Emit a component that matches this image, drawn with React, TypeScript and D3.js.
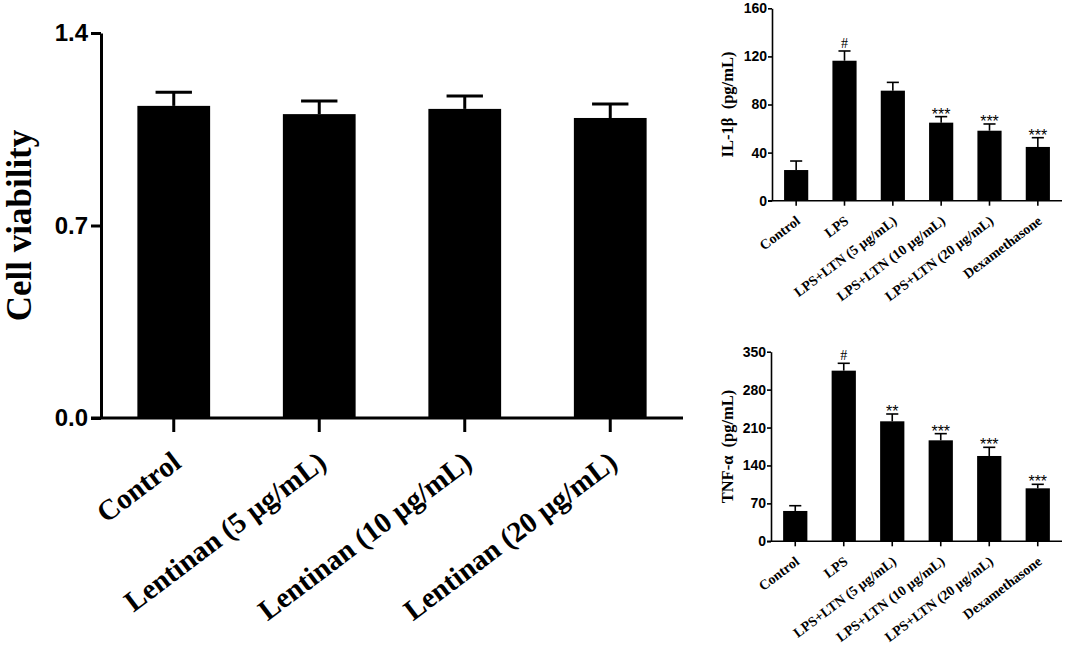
import React, { useEffect, useRef } from 'react';
import * as d3 from 'd3';

// cell viability (left panel)
const viabilityGroups = ['Control', 'Lentinan (5 µg/mL)', 'Lentinan (10 µg/mL)', 'Lentinan (20 µg/mL)'];
const viabilityMeans = [1.135, 1.105, 1.124, 1.091];
const viabilityErrors = [0.05, 0.048, 0.047, 0.051];
const viabilityTicks = [0, 0.7, 1.4];

// cytokines (right panels)
const cytokineGroups = ['Control', 'LPS', 'LPS+LTN (5 µg/mL)', 'LPS+LTN (10 µg/mL)', 'LPS+LTN (20 µg/mL)', 'Dexamethasone'];
const il1bMeans = [25.5, 116.4, 91.5, 64.9, 58.2, 44.7];
const il1bErrors = [7.5, 8.1, 6.9, 5.0, 5.6, 7.7];
const il1bMarks = ['', '#', '', '***', '***', '***'];
const il1bTicks = [0, 40, 80, 120, 160];
const tnfMeans = [56, 315, 221.5, 186.4, 157.5, 97.8];
const tnfErrors = [9.7, 13.6, 13.5, 12.3, 16, 7.4];
const tnfMarks = ['', '#', '**', '***', '***', '***'];
const tnfTicks = [0, 70, 140, 210, 280, 350];

const SANS = "'Liberation Sans', Arial, sans-serif";
const SERIF = "'Liberation Serif', 'Times New Roman', serif";

type Panel = {
  groups: string[];
  means: number[];
  errors: number[];
  marks?: string[];
  ticks: number[];
  fmt: (v: number) => string;
  left: number; right: number; top: number; bottom: number;
  title: string; titleX: number; titleSize: number;
  tickFont: number; tickLen: number; tickPad: number; xTickLen: number; stroke: number;
  labelSize: number; labelAngle: number; labelDx: number; labelDy: number;
  markSize: number;
};

function drawPanel(svg: d3.Selection<SVGSVGElement, unknown, null, undefined>, p: Panel) {
  const g = svg.append('g');
  const x = d3.scaleBand<string>()
    .domain(p.groups)
    .range([p.left, p.right])
    .paddingInner(0.5)
    .paddingOuter(0.25);
  const y = d3.scaleLinear()
    .domain([0, p.ticks[p.ticks.length - 1]])
    .range([p.bottom, p.top]);

  const data = p.groups.map((name, i) => ({ name, mean: p.means[i], err: p.errors[i], mark: p.marks ? p.marks[i] : '' }));
  const bw = x.bandwidth();

  // bars
  g.selectAll('.bar')
    .data(data)
    .enter().append('rect')
    .attr('x', d => x(d.name)!)
    .attr('width', bw)
    .attr('y', d => y(d.mean))
    .attr('height', d => y(0) - y(d.mean))
    .style('fill', '#000');

  // error bars, upper half only
  const eb = g.selectAll('.err').data(data).enter().append('g');
  eb.append('line')
    .attr('x1', d => x(d.name)! + bw / 2)
    .attr('x2', d => x(d.name)! + bw / 2)
    .attr('y1', d => y(d.mean))
    .attr('y2', d => y(d.mean + d.err))
    .style('stroke', '#000')
    .style('stroke-width', p.stroke);
  eb.append('line')
    .attr('x1', d => x(d.name)! + bw / 4)
    .attr('x2', d => x(d.name)! + bw * 3 / 4)
    .attr('y1', d => y(d.mean + d.err))
    .attr('y2', d => y(d.mean + d.err))
    .style('stroke', '#000')
    .style('stroke-width', p.stroke);

  // significance marks
  g.selectAll('.mark')
    .data(data.filter(d => d.mark))
    .enter().append('text')
    .attr('x', d => x(d.name)! + bw / 2)
    .attr('y', d => y(d.mean + d.err) - (d.mark === '#' ? 3 : -3))
    .attr('text-anchor', 'middle')
    .style('font-family', d => (d.mark === '#' ? SERIF : SANS))
    .style('font-size', d => (d.mark === '#' ? p.markSize : p.markSize + 2) + 'px')
    .text(d => d.mark);

  // y axis
  const yAxis = d3.axisLeft(y).tickValues(p.ticks).tickFormat(d => p.fmt(d as number))
    .tickSizeInner(p.tickLen).tickSizeOuter(0).tickPadding(p.tickPad);
  const ya = g.append('g').attr('transform', `translate(${p.left},0)`).call(yAxis);
  ya.selectAll('path, line').style('stroke', '#000').style('stroke-width', p.stroke);
  ya.selectAll('text')
    .style('font-family', SANS)
    .style('font-weight', 'bold')
    .style('font-size', p.tickFont + 'px')
    .style('fill', '#000');

  // x axis
  const xAxis = d3.axisBottom(x).tickSizeInner(p.xTickLen).tickSizeOuter(0).tickFormat(() => '');
  const xa = g.append('g').attr('transform', `translate(0,${p.bottom})`).call(xAxis);
  xa.selectAll('path, line').style('stroke', '#000').style('stroke-width', p.stroke);
  xa.select('path').attr('d', `M${p.left - p.tickLen},0H${p.right}`);

  // rotated category labels
  g.selectAll('.xlab')
    .data(p.groups)
    .enter().append('text')
    .attr('transform', d => `translate(${x(d)! + bw / 2 + p.labelDx},${p.bottom + p.labelDy}) rotate(${p.labelAngle})`)
    .attr('text-anchor', 'end')
    .style('font-family', SERIF)
    .style('font-weight', 'bold')
    .style('font-size', p.labelSize + 'px')
    .text(d => d);

  // y title
  g.append('text')
    .attr('transform', `translate(${p.titleX},${(p.top + p.bottom) / 2}) rotate(-90)`)
    .attr('text-anchor', 'middle')
    .style('font-family', SERIF)
    .style('font-weight', 'bold')
    .style('font-size', p.titleSize + 'px')
    .style('white-space', 'pre')
    .text(p.title);
}

const App = () => {
  const ref = useRef<SVGSVGElement>(null);

  useEffect(() => {
    const svg = d3.select(ref.current!);
    svg.selectAll('*').remove();

    drawPanel(svg, {
      groups: viabilityGroups, means: viabilityMeans, errors: viabilityErrors, ticks: viabilityTicks,
      fmt: d3.format('.1f'),
      left: 101, right: 683, top: 33, bottom: 418,
      title: 'Cell viability', titleX: 31, titleSize: 35,
      tickFont: 24, tickLen: 10, tickPad: 3, xTickLen: 14, stroke: 3,
      labelSize: 29, labelAngle: -37, labelDx: 9, labelDy: 48, markSize: 14,
    });

    drawPanel(svg, {
      groups: cytokineGroups, means: il1bMeans, errors: il1bErrors, marks: il1bMarks, ticks: il1bTicks,
      fmt: d3.format('d'),
      left: 772, right: 1062, top: 8.3, bottom: 200.7,
      title: 'IL-1β  (pg/mL)', titleX: 733, titleSize: 16.5,
      tickFont: 14, tickLen: 4, tickPad: 1, xTickLen: 5, stroke: 1.6,
      labelSize: 14, labelAngle: -37, labelDx: 5, labelDy: 22, markSize: 14,
    });

    drawPanel(svg, {
      groups: cytokineGroups, means: tnfMeans, errors: tnfErrors, marks: tnfMarks, ticks: tnfTicks,
      fmt: d3.format('d'),
      left: 771, right: 1062, top: 351.7, bottom: 541.3,
      title: 'TNF-α  (pg/mL)', titleX: 733, titleSize: 16.5,
      tickFont: 14, tickLen: 4, tickPad: 1, xTickLen: 5, stroke: 1.6,
      labelSize: 14, labelAngle: -37, labelDx: 5, labelDy: 22, markSize: 14,
    });
  }, []);

  return (
    <svg ref={ref} width={1065} height={653}
      style={{ position: 'absolute', left: 0, top: 0, background: '#fff' }} />
  );
};

export default App;
